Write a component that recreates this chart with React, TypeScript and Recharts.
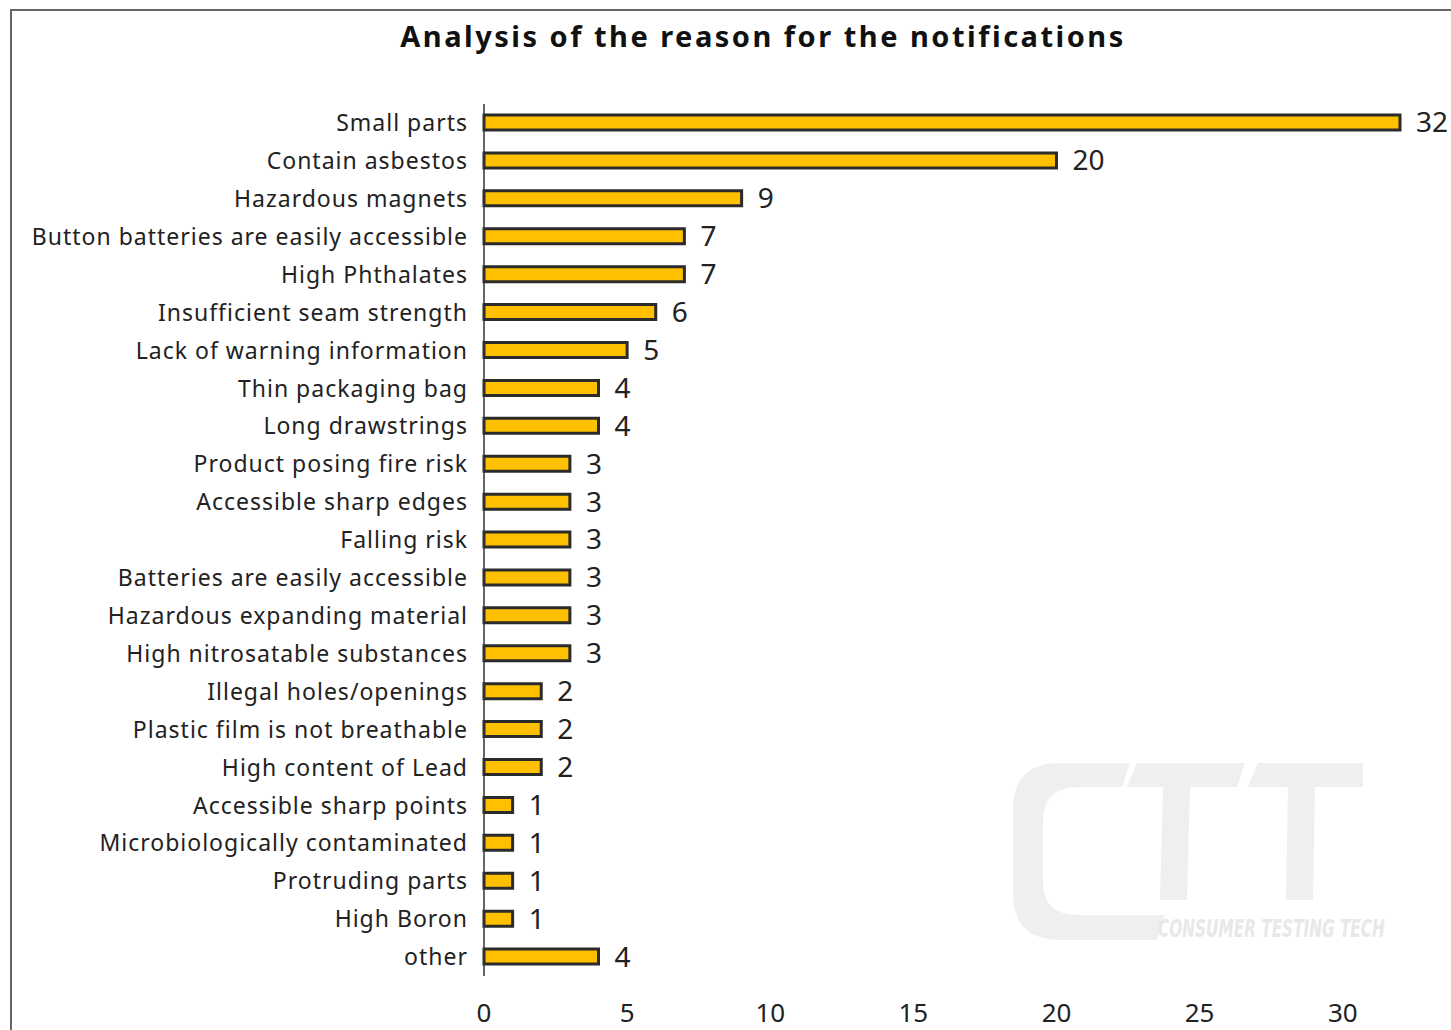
import { BarChart, Bar, XAxis, YAxis, LabelList } from "recharts";

const categories = [
  "Small parts",
  "Contain asbestos",
  "Hazardous magnets",
  "Button batteries are easily accessible",
  "High Phthalates",
  "Insufficient seam strength",
  "Lack of warning information",
  "Thin packaging bag",
  "Long drawstrings",
  "Product posing fire risk",
  "Accessible sharp edges",
  "Falling risk",
  "Batteries are easily accessible",
  "Hazardous expanding material",
  "High nitrosatable substances",
  "Illegal holes/openings",
  "Plastic film is not breathable",
  "High content of Lead",
  "Accessible sharp points",
  "Microbiologically contaminated",
  "Protruding parts",
  "High Boron",
  "other",
];

const counts = [32, 20, 9, 7, 7, 6, 5, 4, 4, 3, 3, 3, 3, 3, 3, 2, 2, 2, 1, 1, 1, 1, 4];

const xTicks = [0, 5, 10, 15, 20, 25, 30];

const data = categories.map((name, i) => ({ name, value: counts[i] }));

const FONT = "'Noto Sans', 'Open Sans', sans-serif";
const MARK = "#efefef";

// faint company logo behind the plot
function Watermark() {
  return (
    <svg
      width={1451}
      height={1030}
      style={{ position: "absolute", left: 0, top: 0 }}
    >
      <path
        d="M1130 763 L1060 763 Q1013 763 1013 810 L1013 893 Q1013 940 1060 940 L1157 940 L1165 915 L1078 915 Q1043 915 1043 882 L1043 822 Q1043 787 1078 787 L1122 787 Z"
        fill={MARK}
      />
      <polygon points="1137,763 1245,763 1237,787 1127,787" fill={MARK} />
      <polygon points="1163,787 1190,787 1187,900 1160,900" fill={MARK} />
      <polygon points="1258,763 1363,763 1363,787 1248,787" fill={MARK} />
      <polygon points="1288,787 1315,787 1313,900 1286,900" fill={MARK} />
    </svg>
  );
}

export default function App() {
  return (
    <div
      style={{
        position: "absolute",
        top: 0,
        left: 0,
        width: 1451,
        height: 1030,
        overflow: "hidden",
        background: "#fff",
        fontFamily: FONT,
      }}
    >
      {/* frame */}
      <div
        style={{
          position: "absolute",
          left: 10,
          top: 9,
          width: 1500,
          height: 1100,
          border: "2px solid #666",
        }}
      />
      <Watermark />
      <div
        style={{
          position: "absolute",
          left: 1158,
          top: 916,
          fontSize: 25,
          fontWeight: 700,
          fontStyle: "italic",
          fontFamily: "'Liberation Sans Narrow', 'DejaVu Sans Condensed', sans-serif",
          color: "#e8e8e8",
          lineHeight: "26px",
          whiteSpace: "nowrap",
          transform: "scaleX(0.68)",
          transformOrigin: "left top",
        }}
      >
        CONSUMER TESTING TECH
      </div>
      <div
        style={{
          position: "absolute",
          left: 0,
          top: 21,
          width: 1526,
          textAlign: "center",
          fontSize: 29,
          fontWeight: 700,
          letterSpacing: 2.5,
          lineHeight: 1,
          color: "#111",
        }}
      >
        Analysis of the reason for the notifications
      </div>
      <div style={{ position: "absolute", left: 0, top: 0 }}>
        <BarChart
          width={1451}
          height={1030}
          data={data}
          layout="vertical"
          margin={{ top: 104, right: 51, bottom: 0, left: 0 }}
        >
          <XAxis
            type="number"
            domain={[0, 32]}
            ticks={xTicks}
            axisLine={false}
            tickLine={false}
            tickMargin={22}
            tick={{ fill: "#222", fontSize: 26, fontFamily: FONT }}
            height={54}
          />
          <YAxis
            type="category"
            dataKey="name"
            width={484}
            axisLine={{ stroke: "#333", strokeWidth: 1.5 }}
            tickLine={false}
            tickMargin={10}
            interval={0}
            tick={{ fill: "#222", fontSize: 23, fontFamily: FONT, letterSpacing: 1 }}
          />
          <Bar
            dataKey="value"
            fill="#FFC000"
            stroke="#2b2b2b"
            strokeWidth={3}
            barSize={15}
            isAnimationActive={false}
          >
            <LabelList
              dataKey="value"
              position="right"
              offset={16}
              fill="#222"
              fontSize={28}
              fontFamily={FONT}
            />
          </Bar>
        </BarChart>
      </div>
    </div>
  );
}
